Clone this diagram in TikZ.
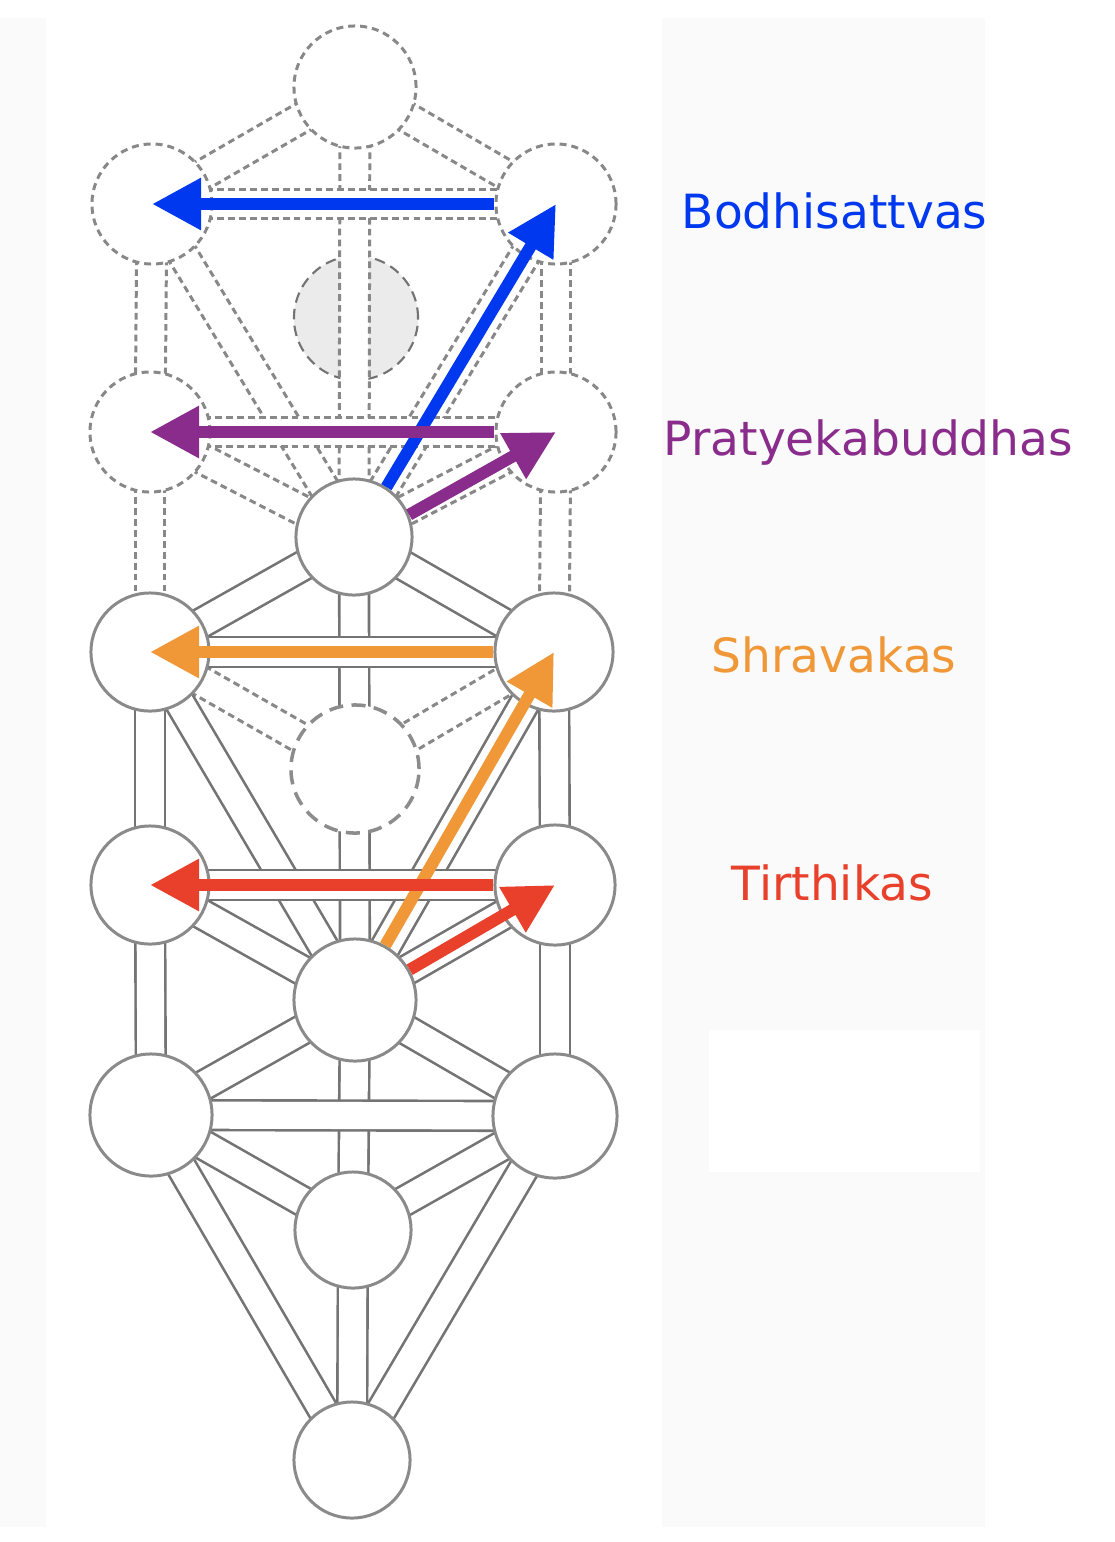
\documentclass[tikz,border=0pt]{standalone}
\usepackage{fontspec}
\setmainfont{DejaVu Sans}
\usepackage{tikz}
\usetikzlibrary{arrows.meta}
\usetikzlibrary{backgrounds}
\usetikzlibrary{calc}
\definecolor{pathgray}{HTML}{747474}
\definecolor{ringgray}{HTML}{8A8A8A}
\definecolor{dashgray}{HTML}{888888}
\definecolor{daatgray}{HTML}{EBEBEB}
\definecolor{panelgray}{HTML}{FAFAFA}
\definecolor{bodhiblue}{HTML}{0038F0}
\definecolor{pratpurple}{HTML}{8A2C8C}
\definecolor{shraorange}{HTML}{F09838}
\definecolor{tirthred}{HTML}{E8402A}
\tikzset{
	sefira/.style={circle, draw=ringgray, fill=white, line width=0.85pt, inner sep=0pt, minimum size=1.18cm},
	ghost/.style={sefira, draw=dashgray, line width=0.85pt, dash pattern=on 2pt off 1.4pt, minimum size=1.2cm},
	hollow/.style={sefira, draw=black!45, line width=1pt, dash pattern=on 4pt off 2.4pt, minimum size=1.28cm},
	daat/.style={circle, fill=daatgray, draw=black!55, line width=0.6pt, dash pattern=on 3pt off 1.8pt, inner sep=0pt, minimum size=1.24cm},
	solidpath/.style={draw=pathgray, line width=0.75pt, double=white, double distance=7.7pt},
	dashline/.style={draw=dashgray, line width=0.85pt, dash pattern=on 1.9pt off 1.2pt},
	underlay/.style={draw=white, line width=8pt},
	way/.style={line width=3.4pt, -{Triangle[length=14pt,width=14pt]}},
	school/.style={font=\fontsize{13.4pt}{16pt}\selectfont, inner sep=0pt}
}
\newcommand{\dashway}[2]{
	\draw[dashline] ($(#1.center)!4.25pt!90:(#2.center)$) -- ($(#2.center)!4.25pt!-90:(#1.center)$);
	\draw[dashline] ($(#1.center)!4.25pt!-90:(#2.center)$) -- ($(#2.center)!4.25pt!90:(#1.center)$);
}
\begin{document}
\begin{tikzpicture}[x=0.01cm, y=-0.01cm]
	\useasboundingbox (0,0) rectangle (1114,1542);
	
	\node[ghost, minimum size=1.22cm] (C0) at (355,87) {};
	\node[ghost] (L1) at (152,204) {};
	\node[ghost] (R1) at (556,204) {};
	\node[ghost] (L2) at (150,432) {};
	\node[ghost] (R2) at (556,432) {};
	\node[sefira, minimum size=1.16cm] (C1) at (354,537) {};
	\node[sefira] (L3) at (150,652) {};
	\node[sefira] (R3) at (554,652) {};
	\node[hollow] (D2) at (355,769) {};
	\node[sefira] (L4) at (150,885) {};
	\node[sefira, minimum size=1.2cm] (R4) at (555,885) {};
	\node[sefira, minimum size=1.22cm] (C2) at (355,1000) {};
	\node[sefira, minimum size=1.22cm] (L5) at (151,1115) {};
	\node[sefira, minimum size=1.24cm] (R5) at (555,1116) {};
	\node[sefira, minimum size=1.16cm] (C3) at (353,1230) {};
	\node[sefira, minimum size=1.16cm] (C4) at (352,1460) {};
	
	\begin{scope}[on background layer]
		\fill[panelgray] (0,18) rectangle (46,1527);
		\fill[panelgray] (662,18) rectangle (985,1527);
		\fill[white] (709,1030) rectangle (980,1172);
		\node[daat] (D1) at (356,318) {};
		
		\dashway{C0}{L1}
		\dashway{C0}{R1}
		\draw[underlay] (C0.center) -- (C1.center);
		\dashway{C0}{C1}
		\dashway{L1}{C1}
		\dashway{R1}{C1}
		\dashway{L1}{L2}
		\dashway{R1}{R2}
		\dashway{L2}{C1}
		\dashway{R2}{C1}
		\dashway{L2}{L3}
		\dashway{R2}{R3}
		\dashway{D2}{L3}
		\dashway{D2}{R3}
		\draw[underlay] (L1.center) -- (R1.center);
		\dashway{L1}{R1}
		\draw[underlay] (L2.center) -- (R2.center);
		\dashway{L2}{R2}
		
		\draw[solidpath] (C1.center) -- (L3.center);
		\draw[solidpath] (C1.center) -- (R3.center);
		\draw[solidpath] (C1.center) -- (C2.center);
		\draw[solidpath] (L3.center) -- (C2.center);
		\draw[solidpath] (R3.center) -- (C2.center);
		\draw[solidpath] (L3.center) -- (L4.center);
		\draw[solidpath] (R3.center) -- (R4.center);
		\draw[solidpath] (L4.center) -- (C2.center);
		\draw[solidpath] (R4.center) -- (C2.center);
		\draw[solidpath] (L4.center) -- (L5.center);
		\draw[solidpath] (R4.center) -- (R5.center);
		\draw[solidpath] (C2.center) -- (L5.center);
		\draw[solidpath] (C2.center) -- (R5.center);
		\draw[solidpath] (C2.center) -- (C3.center);
		\draw[solidpath] (L5.center) -- (C3.center);
		\draw[solidpath] (R5.center) -- (C3.center);
		\draw[solidpath] (L5.center) -- (C4.center);
		\draw[solidpath] (R5.center) -- (C4.center);
		\draw[solidpath] (C3.center) -- (C4.center);
		\draw[solidpath] (L3.center) -- (R3.center);
		\draw[solidpath] (L4.center) -- (R4.center);
		\draw[solidpath] (L5.center) -- (R5.center);
	\end{scope}
	
	\draw[way, bodhiblue] (R1.west) -- (L1.center);
	\draw[way, bodhiblue] (C1.57) -- (R1.center);
	\draw[way, pratpurple] (R2.west) -- (L2.center);
	\draw[way, pratpurple] (C1.22) -- (R2.center);
	\draw[way, shraorange] (R3.west) -- (L3.center);
	\draw[way, shraorange] (C2.61) -- (R3.center);
	\draw[way, tirthred] (R4.west) -- (L4.center);
	\draw[way, tirthred] (C2.29) -- (R4.center);
	
	\node[school, text=bodhiblue, anchor=base west] (bodhi) at (681,228) {Bodhisattvas};
	\node[school, text=pratpurple, anchor=base west] (pratyeka) at (663,455) {Pratyekabuddhas};
	\node[school, text=shraorange, anchor=base west] (shravaka) at (711,672) {Shravakas};
	\node[school, text=tirthred, anchor=base west] (tirthika) at (731,900) {Tirthikas};
\end{tikzpicture}
\end{document}
